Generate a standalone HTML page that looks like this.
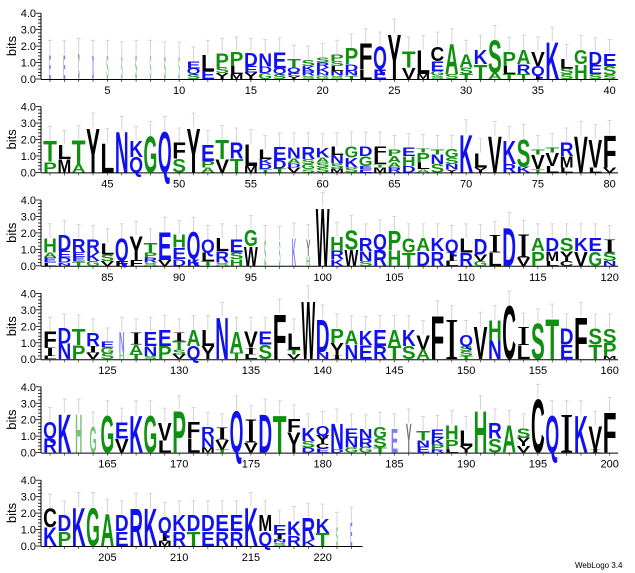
<!DOCTYPE html>
<html><head><meta charset="utf-8"><style>
html,body{margin:0;padding:0;background:#fff;}
svg{display:block;font-family:"Liberation Sans",sans-serif;}
</style></head><body>
<svg id="logo" width="635" height="573" viewBox="0 0 635 573" xmlns="http://www.w3.org/2000/svg">
<text x="575" y="568" font-size="8" fill="#000">WebLogo 3.4</text>
</svg>
<script>
// Letter stacks per position (1..222), top-to-bottom, letter+bits
const stacks = [
"E1.5","E1.5","C1.6","D1.5","S1.5","S1.4","S1.5","S1.5","S1.4","S1.4",
"E0.45 Q0.35 S0.3","L1.0 E0.5","P0.9 S0.35 Y0.35","P0.9 L0.5 M0.3","D0.8 E0.4 Y0.4","N0.8 D0.4 G0.35","E1.0 Q0.35 S0.3","T0.5 Q0.3 E0.2 Y0.2","S0.35 K0.3 R0.3 S0.2","S0.3 R0.3 K0.3 N0.2 G0.2",
"P0.4 S0.3 L0.3 N0.3 S0.2","P1.0 D0.4 N0.3 T0.2","F1.6 L0.6","Q1.4 E0.6","Y2.8","T1.0 V0.7","L1.5 M0.3","C0.9 E0.6 G0.3 S0.2","A1.9 S0.3","A0.8 S0.4 T0.3",
"K0.9 T0.9","S2.0 A0.4","P0.9 L0.5 T0.3","A0.9 R0.6 T0.3","V0.9 Q0.6 I0.2","K2.3","L0.6 S0.35 S0.3","G0.9 H0.9","D0.8 E0.55 S0.3","E0.75 S0.55 S0.25",
"T1.3 P0.65","L0.9 M0.8","T1.5 A0.5","Y2.75","L1.8","N2.55","K1.0 Q0.95","G2.25","Q2.55","F1.0 S0.85",
"Y2.75","E1.0 P0.4 A0.3","T1.2 V0.8","R1.0 T0.85","L1.35 M0.4","L0.6 K0.3 D0.3 T0.2","E0.8 D0.5 T0.25","N0.7 A0.3 D0.25 V0.3","R0.75 S0.3 G0.3 S0.2","K0.6 A0.3 S0.3 S0.3",
"L0.5 N0.5 S0.3 M0.25","G0.7 K0.6 S0.3","D0.6 G0.6 E0.2 E0.2","F0.6 L0.5 T0.2 M0.3","P0.4 A0.4 A0.3 R0.3","E0.5 H0.6 D0.4","T0.25 P0.6 L0.4 A0.2","T0.3 N0.6 S0.5","G0.5 S0.4 N0.3 Y0.2","K2.35",
"L0.9 Y0.3","V2.25","K1.45 R0.5","S1.7 K0.35","T0.3 V0.9 T0.2","T0.3 V0.8 L0.4","R0.85 M0.7 L0.3","V2.25","V1.75 L0.3","F2.0 V0.3",
"H0.9 A0.3 E0.3 L0.2","D1.0 E0.4 D0.3 N0.2","R0.8 E0.3 E0.3 T0.25","R0.8 K0.5 G0.3","L0.7 S0.4 V0.3","Q1.4 F0.3","Y1.5 F0.35","T0.6 P0.3 R0.3 S0.2","E1.75 V0.35","H0.8 E0.7 D0.4",
"Q1.7 K0.4","Q0.8 L0.5 T0.3","L0.8 R0.7 S0.2","E0.8 S0.4 H0.4","G1.0 W1.2","S1.6","S1.55","K1.75","Y1.05 H0.6","W3.6",
"H0.9 R0.5 K0.4","S1.2 W1.0","R0.8 N0.6 S0.3","Q0.95 R1.0","P1.2 H0.95","G0.9 T0.8","A0.8 D0.9","K0.8 R0.9","Q0.8 I0.5 L0.3","L0.9 R0.8",
"D0.95 V0.4 G0.3","I1.05 L0.8","D2.4","I1.4 V0.5","A0.8 P0.9","D0.8 M0.6 L0.3","S0.8 Y0.6 C0.3","K0.8 V0.9","E0.8 G0.9","I0.8 S0.5 N0.3",
"F1.0 I0.5 L0.2","D0.95 N0.95","T1.0 P0.85","R0.8 I0.4 V0.4","E0.35 G0.35 S0.35","N1.3 H0.4","I0.7 A0.6 T0.3","E0.9 N0.6 S0.2","E1.0 P0.8","I0.5 T0.5 S0.3 V0.3",
"A1.0 Q0.8","L1.0 Y0.8","N2.6","A1.3 T0.4","V1.0 I0.4 L0.3","E0.8 S0.9","F2.8","L1.0 T0.3 V0.3","W3.6","D2.0 N0.45",
"P0.9 Y0.8 I0.2","A0.9 N0.9","K0.9 E0.85","E1.0 R0.8","A1.0 T0.8","K1.0 S0.8","V0.9 A0.6","F2.7","I2.4","Q0.7 S0.3 S0.3 T0.2",
"V2.0","H1.25 N1.15","C3.3","I1.1 L0.85","S2.2","T2.5","D1.0 E0.9","F2.6","S1.0 T0.9","S0.9 P0.8 M0.2",
"Q1.0 R0.9","K2.4","H2.4","G1.6","G2.3","E1.0 V0.85","K2.3","G2.3","V1.1 L0.75","P2.6",
"F1.0 L0.9","R0.7 N0.6 M0.3","I0.7 V0.6 T0.2","Q2.6","I1.4 V0.6","D2.4","T2.3","F0.8 Y1.25","K0.8 S0.4 D0.3","Q0.6 Y0.5 C0.3 E0.25",
"N1.6 D0.2","E0.6 N0.6 G0.3","N0.6 R0.5 G0.35","G0.7 S0.6 T0.3","E1.5","Y1.8","T0.6 N0.4 E0.35","E0.5 K0.4 P0.3 R0.2","H0.9 P0.6 L0.2","L0.95 Y0.4",
"H2.6","R0.95 S0.85","A1.7","S0.6 Y0.5 V0.4","C3.3","Q2.3","I2.3","K2.3","V1.45 I0.2","F2.5",
"C1.15 K1.15","D1.0 P0.9","K2.4","G2.4","A2.0","D1.0 E0.9","R2.35","K2.35","Q1.0 I0.5 M0.3","K1.0 R0.9",
"D1.0 T0.9","D1.0 E0.9","E1.0 R0.9","E1.0 R0.9","K2.4","M1.0 Q0.9","E0.6 I0.3 N0.2 S0.2","K0.9 R0.65","R1.35 K0.4","K0.9 T0.8",
"S1.2","E1.5"
];
// Column width fractions for gap-weighted (narrow) positions
const narrowPos = [1,2,3,4,5,6,7,8,9,10,96,97,98,99,126,163,164,185,186,221,222];
const narrowW   = [0.15,0.15,0.12,0.15,0.15,0.12,0.15,0.12,0.15,0.12,0.15,0.12,0.3,0.3,0.4,0.5,0.5,0.5,0.4,0.15,0.15];
const yTicks = ["0.0","1.0","2.0","3.0","4.0"];

const NS="http://www.w3.org/2000/svg";
const svg=document.getElementById('logo');
const ROW0=79, PITCH=93.4, BIT=16.45, X0=50, COLW=14.35, PER=40, AXX=41;
const colors={G:'#109010',S:'#109010',T:'#109010',H:'#109010',P:'#109010',A:'#109010',
 D:'#1010f0',E:'#1010f0',N:'#1010f0',Q:'#1010f0',K:'#1010f0',R:'#1010f0'};
function yScale(row,bits){return ROW0+row*PITCH-bits*BIT;}
function xScale(pos){return X0+((pos-1)%PER)*COLW;}
function mk(tag,attrs){const e=document.createElementNS(NS,tag);for(const k in attrs)e.setAttribute(k,attrs[k]);svg.appendChild(e);return e;}
const nRows=Math.ceil(stacks.length/PER);
for(let r=0;r<nRows;r++){
  const base=yScale(r,0);
  const first=r*PER+1, last=Math.min(stacks.length,(r+1)*PER);
  const axEnd = r<nRows-1 ? 618 : xScale(last)+COLW/2+4;
  const ya=mk('line',{x1:AXX,y1:base,x2:AXX,y2:yScale(r,4),stroke:'#000','stroke-width':1});
  
  
  for(let t=0;t<=20;t++){
    const y=yScale(r,t*0.2);const major=t%5===0;
    mk('line',{x1:AXX-(major?5:3),y1:y,x2:AXX,y2:y,stroke:'#000','stroke-width':0.8});
  }
  yTicks.forEach((lab,i)=>{
    const tx=mk('text',{x:AXX-5,y:yScale(r,i)+4,'font-size':11,'text-anchor':'end',fill:'#000'});
    tx.textContent=lab;
    
    
  });
  const bl=mk('text',{x:0,y:0,'font-size':13,'text-anchor':'middle',fill:'#000',transform:`translate(16,${base-33}) rotate(-90)`});
  bl.textContent='bits';
  
  
  const xa=mk('line',{x1:AXX,y1:base+0.5,x2:axEnd,y2:base+0.5,stroke:'#000','stroke-width':1});
  
  
  for(let p=first;p<=last;p++){
    const x=xScale(p);
    mk('line',{x1:x,y1:base+1,x2:x,y2:base+3,stroke:'#000','stroke-width':0.6});
    if(p%5===0){
      const tl=mk('text',{x:x,y:base+15,'font-size':11,'text-anchor':'middle',fill:'#000'});
      tl.textContent=String(p);
      
      
    }
  }
}
stacks.forEach((s,i)=>{
  const pos=i+1,row=Math.floor(i/PER),x=xScale(pos);
  const ni=narrowPos.indexOf(pos);
  const wf=ni>=0?narrowW[ni]:0.96;
  const w=COLW*wf;
  const parts=s.split(' ').map(p=>({l:p[0],h:parseFloat(p.slice(1))}));
  const total=parts.reduce((a,b)=>a+b.h,0);
  const eb=mk('line',{x1:x,y1:yScale(row,total),x2:x,y2:yScale(row,total+0.85),stroke:'#d4d4d4','stroke-width':1});
  
  
  mk('line',{x1:x-2,y1:yScale(row,total+0.85),x2:x+2,y2:yScale(row,total+0.85),stroke:'#d4d4d4','stroke-width':1});
  let cum=0;
  for(let k=parts.length-1;k>=0;k--){
    const p=parts[k];
    const yb=yScale(row,cum), hpx=p.h*BIT;
    cum+=p.h;
    const isI=p.l==='I';
    const sy=hpx/(isI?66.2:71.6);
    const t=mk('text',{x:0,y:0,'font-size':100,'font-weight':isI?'normal':'bold',fill:colors[p.l]||'#000',
      textLength:w,lengthAdjust:'spacingAndGlyphs',transform:`translate(${x-w/2},${yb}) scale(1,${sy})`});
    if(isI)t.setAttribute('font-family','"Liberation Serif", serif');
    if(ni>=0)t.setAttribute('opacity','0.55');
    t.textContent=p.l;
    
    
  }
});
</script>
</body></html>
